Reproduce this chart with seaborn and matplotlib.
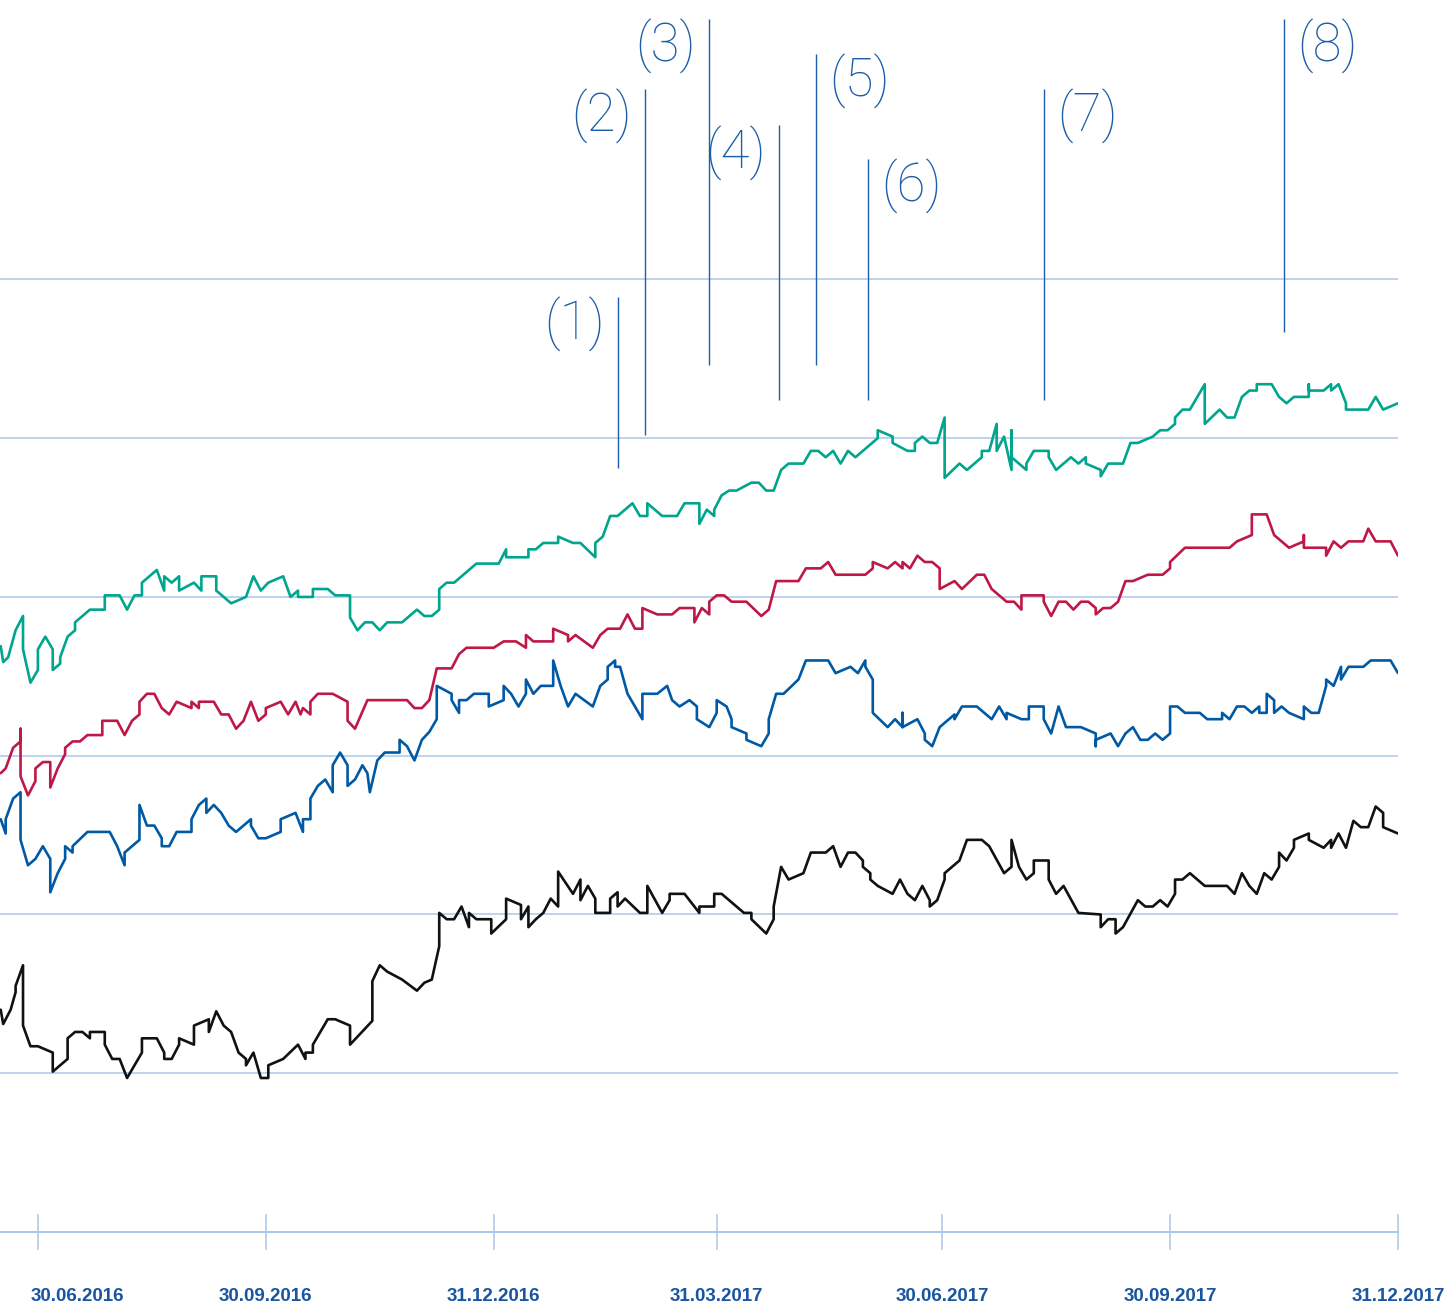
import pandas as pd; import numpy as np
import seaborn as sns; import matplotlib.pyplot as plt
import matplotlib.dates as mdates

start = pd.Timestamp("2016-06-15")

# days since start, index values
green_days = [0,1,3,6,9,9,12,15,15,18,21,21,24,24,27,30,30,36,42,42,48,51,54,57,57,63,66,66,69,72,72,78,81,81,87,87,93,99,102,105,108,114,117,120,120,126,126,132,135,141,141,144,147,150,153,156,162,168,171,174,177,177,180,183,192,201,204,204,213,213,216,219,225,225,231,234,240,240,243,246,249,255,258,261,261,267,273,276,282,282,285,288,288,291,294,297,303,306,309,312,315,318,324,327,330,333,336,339,342,345,354,354,360,360,366,369,369,372,375,378,381,381,387,390,396,396,399,402,402,405,408,408,408,414,414,417,423,423,426,432,435,438,438,444,444,447,453,456,459,465,468,471,474,474,477,480,486,486,492,495,498,501,504,507,507,513,516,519,522,528,528,528,534,537,537,540,543,543,552,555,558,564]
green_vals = [96.9,95.9,96.2,97.9,98.8,96.7,94.6,95.4,96.7,97.5,96.7,95.4,95.8,96.2,97.5,97.9,98.4,99.2,99.2,100.1,100.1,99.2,100.1,100.1,100.9,101.7,100.4,101.3,100.9,101.3,100.4,100.9,100.4,101.3,101.3,100.4,99.6,100.0,101.3,100.4,100.9,101.3,100.0,100.4,100.0,100.0,100.5,100.5,100.1,100.1,98.7,97.9,98.4,98.4,97.9,98.4,98.4,99.2,98.8,98.8,99.2,100.5,100.9,100.9,102.1,102.1,103.0,102.5,102.5,103.0,103.0,103.4,103.4,103.8,103.4,103.4,102.5,103.4,103.8,105.1,105.1,105.9,105.1,105.1,105.9,105.1,105.1,105.9,105.9,104.6,105.5,105.1,105.5,106.4,106.7,106.7,107.2,107.2,106.7,106.7,108.0,108.4,108.4,109.2,109.2,108.8,109.2,108.4,109.2,108.8,110.0,110.5,110.1,109.7,109.2,109.2,109.7,110.1,109.7,109.7,111.3,107.5,108.4,108.0,108.8,109.2,109.2,110.9,109.2,110.1,108.0,110.5,108.8,108.0,108.4,109.2,109.2,108.8,108.0,108.8,108.4,108.8,108.4,108.0,107.6,108.4,108.4,109.7,109.7,110.1,110.5,110.5,110.9,111.3,111.8,111.8,113.4,110.9,111.8,111.3,111.3,112.6,113.0,113.0,113.4,113.4,112.6,112.2,112.6,112.6,113.4,113.0,113.0,113.4,113.0,113.4,112.2,111.8,111.8,112.6,111.8,112.2]

red_days = [0,2,5,8,8,8,11,14,14,17,20,20,23,26,26,29,32,35,41,41,47,50,53,56,56,59,62,65,68,71,77,77,80,80,86,89,92,95,98,101,104,107,107,113,116,119,121,122,125,125,128,134,140,140,143,148,164,167,170,173,176,182,185,188,199,203,208,212,212,215,223,223,229,229,232,239,242,245,250,253,256,259,259,265,271,274,280,280,283,286,286,289,292,295,301,307,310,313,322,325,331,334,337,349,352,352,358,361,364,364,367,370,373,376,379,379,385,388,394,397,400,406,409,412,412,421,421,424,427,430,433,436,439,442,442,445,448,451,454,457,463,469,472,472,478,496,499,505,505,511,514,520,526,526,526,535,535,538,541,544,550,552,555,561,564]
red_vals = [88.9,89.2,90.5,90.9,91.7,88.7,87.5,88.4,89.2,89.6,89.6,88.0,89.2,90.1,90.5,90.9,90.9,91.3,91.3,92.2,92.2,91.3,92.2,92.6,93.4,93.9,93.9,93.0,92.6,93.4,93.0,93.4,93.0,93.4,93.4,92.6,92.6,91.7,92.2,93.4,92.2,92.6,93.0,93.4,92.6,93.4,92.6,93.0,92.6,93.4,93.9,93.9,93.4,92.2,91.7,93.5,93.5,93.0,93.0,93.5,95.5,95.5,96.4,96.8,96.8,97.2,97.2,96.8,97.6,97.2,97.2,98.0,97.6,97.2,97.6,96.8,97.6,98.0,98.0,98.9,98.0,98.0,99.3,98.9,98.9,99.3,99.3,98.4,99.3,98.9,99.7,100.1,100.1,99.7,99.7,98.8,99.2,101.0,101.0,101.8,101.8,102.2,101.4,101.4,101.8,102.2,101.8,102.2,101.8,102.2,101.8,102.6,102.2,102.2,101.8,100.5,101.0,100.5,101.4,101.4,100.5,99.7,99.7,99.2,100.1,100.1,99.7,98.8,99.7,99.7,99.2,99.7,99.7,99.3,98.9,99.3,99.3,99.7,101.0,101.0,101.4,101.4,101.8,102.2,103.1,103.1,103.5,103.9,105.2,105.2,103.9,103.1,103.5,103.9,103.1,103.1,102.6,103.5,103.1,103.5,103.5,104.3,103.5,103.5,102.6]

blue_days = [0,2,2,5,8,8,11,14,17,20,20,23,26,26,29,29,35,44,47,50,50,56,56,59,62,65,65,68,71,77,77,80,83,83,86,89,92,95,101,101,104,107,113,113,119,122,122,125,125,128,131,134,134,137,140,140,143,146,148,149,152,155,161,161,164,167,170,173,176,176,182,182,185,185,188,191,197,197,203,203,206,209,212,212,215,218,223,223,226,229,232,239,242,245,245,248,248,250,253,259,259,265,269,271,274,278,281,281,286,289,289,293,295,295,301,301,307,310,310,313,316,322,325,334,337,343,346,349,349,352,352,358,361,364,364,364,370,373,373,376,379,385,385,388,394,400,403,406,406,412,415,415,421,421,424,427,430,436,442,442,442,448,451,454,457,460,463,466,469,472,472,475,478,484,487,493,493,496,499,502,505,508,508,511,511,514,514,517,520,526,526,529,532,535,535,538,541,541,544,550,553,561,564]
blue_vals = [86.0,85.1,86.0,87.3,87.7,84.7,83.1,83.5,84.3,83.5,81.4,82.6,83.5,84.3,83.9,84.3,85.2,85.2,84.3,83.1,83.9,84.7,86.9,85.6,85.6,84.8,84.3,84.3,85.2,85.2,86.0,86.9,87.3,86.4,86.9,86.4,85.6,85.2,86.0,85.6,84.8,84.8,85.2,86.0,86.4,85.2,86.0,86.0,87.3,88.1,88.5,87.7,89.4,90.2,89.4,88.1,88.5,89.4,88.9,87.7,89.7,90.2,90.2,91.0,90.6,89.7,91.0,91.5,92.3,94.4,93.9,93.5,92.7,93.5,93.5,93.9,93.9,93.1,93.5,94.4,93.9,93.1,93.9,94.8,93.9,94.4,94.4,96.0,94.4,93.1,93.9,93.1,94.4,94.8,95.6,96.0,95.6,95.6,93.9,92.3,93.9,93.9,94.4,93.5,93.1,93.5,93.1,92.3,91.8,92.7,93.5,93.1,92.3,91.8,91.4,91.0,90.6,91.4,92.3,93.9,93.9,94.8,96.0,96.0,95.2,95.6,95.2,96.0,95.6,94.8,92.7,91.8,92.3,91.8,92.7,91.8,92.3,91.4,91.0,90.6,91.8,92.6,92.3,93.1,93.1,92.3,93.1,92.3,92.7,92.3,92.3,93.1,93.1,92.3,91.4,93.1,91.8,91.8,91.4,90.6,91.0,91.4,90.6,91.4,91.8,91.0,91.0,91.4,91.0,91.4,93.1,93.1,92.7,92.7,92.3,92.3,92.7,92.3,93.1,93.1,92.7,93.1,92.7,92.7,93.9,93.5,92.7,93.1,92.7,92.3,93.1,92.7,92.7,94.4,94.8,94.4,95.6,94.8,95.6,95.6,96.0,96.0,95.2]

black_days = [0,1,4,6,6,9,9,12,15,21,21,27,27,30,33,36,36,42,42,45,48,51,57,57,63,66,66,69,72,72,78,78,84,84,87,90,93,96,99,99,102,105,108,108,114,120,123,123,126,126,132,135,141,141,150,150,153,156,162,168,171,174,177,177,180,183,186,189,189,192,198,198,204,204,210,210,213,213,216,219,222,225,225,231,234,234,237,240,240,246,246,249,249,252,258,261,261,267,270,270,276,282,282,288,288,291,300,303,303,309,312,312,315,318,324,327,333,336,339,342,345,348,348,351,351,354,360,363,366,369,372,375,375,378,381,381,387,390,396,399,405,408,408,411,414,417,417,423,423,426,429,435,444,444,447,450,450,453,459,462,465,468,471,474,474,477,480,486,495,498,501,504,507,510,513,516,516,519,522,522,528,528,534,537,537,540,543,546,549,552,555,558,558,564]
black_vals = [74.0,73.1,74.0,75.1,75.5,76.8,73.0,71.7,71.7,71.3,70.1,70.9,72.2,72.6,72.6,72.2,72.6,72.6,71.8,70.9,70.9,69.7,71.3,72.2,72.2,71.3,70.9,70.9,71.8,72.2,71.8,73.0,73.4,72.6,73.9,73.0,72.6,71.3,70.9,70.5,71.3,69.7,69.7,70.5,70.9,71.8,70.9,71.3,71.3,71.8,73.4,73.4,73.0,71.8,73.3,75.8,76.8,76.4,75.9,75.2,75.7,75.9,78.0,80.1,79.7,79.7,80.5,79.2,80.1,79.7,79.7,78.8,79.7,81.0,80.6,79.7,80.5,79.2,79.7,80.1,81.0,80.5,82.7,81.3,82.2,80.9,81.8,81.0,80.1,80.1,81.0,81.4,80.5,81.0,80.1,80.1,81.8,80.1,80.9,81.3,81.3,80.1,80.5,80.5,81.3,81.3,80.1,80.1,79.7,78.8,79.7,80.5,83.0,82.2,82.6,83.9,83.9,84.3,83.0,83.9,83.9,83.4,83.0,82.6,82.2,81.8,81.3,82.2,81.3,80.9,81.8,80.9,80.5,80.9,82.2,82.6,83.4,84.7,84.7,84.3,82.6,83.0,84.7,83.0,82.2,82.6,83.4,83.4,82.2,81.3,81.8,80.1,80.0,79.2,79.7,79.7,78.8,79.2,80.9,80.5,80.5,80.9,80.5,81.3,82.2,82.2,82.6,81.8,81.8,81.3,82.6,81.8,81.3,82.6,82.2,83.0,83.9,83.4,84.2,84.7,85.1,84.7,84.2,84.7,84.2,85.1,84.2,85.9,85.5,85.5,86.8,86.4,85.5,85.1]

tick_dates = ["2016-06-30", "2016-09-30", "2016-12-31", "2017-03-31", "2017-06-30", "2017-09-30", "2017-12-31"]
tick_labels = ["30.06.2016", "30.09.2016", "31.12.2016", "31.03.2017", "30.06.2017", "30.09.2017", "31.12.2017"]

event_days = [249, 260, 286, 314, 329, 350, 421, 518]
event_labels = ["(1)", "(2)", "(3)", "(4)", "(5)", "(6)", "(7)", "(8)"]
# vertical extent of the marker lines, in index units
event_top = [118.9, 132.0, 136.4, 129.7, 134.2, 127.6, 132.0, 136.4]
event_bottom = [108.1, 110.2, 114.6, 112.4, 114.6, 112.4, 112.4, 116.7]

frames = []
for name, d, v in [("green", green_days, green_vals), ("red", red_days, red_vals),
                   ("blue", blue_days, blue_vals), ("black", black_days, black_vals)]:
    frames.append(pd.DataFrame({"date": start + pd.to_timedelta(d, unit="D"),
                                "value": v, "series": name}))
df = pd.concat(frames, ignore_index=True)

palette = {"green": "#00a58e", "red": "#be1846", "blue": "#0059a5", "black": "#111111"}
grid_col = "#a9c6ea"
ann_col = "#1d5ea8"

sns.set_style("white")
fig = plt.figure(figsize=(14.45, 13.03), dpi=100)
ax = fig.add_axes([0, 71 / 1303, 1398 / 1445, 1232 / 1303])

sns.lineplot(data=df, x="date", y="value", hue="series", palette=palette,
             estimator=None, sort=False, legend=False, lw=1.9, ax=ax)

ax.set_ylim(60, 137.6)
ax.set_xlim(start - pd.Timedelta(hours=7), start + pd.Timedelta(days=564))
ax.set_yticks([70, 80, 90, 100, 110, 120])
ax.yaxis.grid(True, color=grid_col, lw=1.1)
ax.xaxis.grid(False)
ax.tick_params(axis="y", left=False, labelleft=False)
ax.set_xlabel("")
ax.set_ylabel("")
for s in ["left", "right", "top"]:
    ax.spines[s].set_visible(False)
ax.spines["bottom"].set_color(grid_col)
ax.spines["bottom"].set_linewidth(1.4)

ax.set_xticks(pd.to_datetime(tick_dates))
ax.tick_params(axis="x", bottom=True, direction="inout", length=26.6, width=1.1,
               color=grid_col, labelbottom=False)

for i, (td, tl) in enumerate(zip(tick_dates, tick_labels)):
    ax.annotate(tl, xy=(mdates.date2num(pd.Timestamp(td)), 0),
                xycoords=("data", "axes fraction"),
                xytext=(-5 if i == 0 else 0, -49.5), textcoords="offset points",
                ha="left" if i == 0 else "center", va="baseline",
                fontsize=13.5, fontweight="bold", color="#1a56a0",
                family=["Liberation Sans", "DejaVu Sans"])

event_dates = start + pd.to_timedelta(event_days, unit="D")
ax.vlines(event_dates, event_bottom, event_top, color=ann_col, lw=1.0)
for i, (ed, lab, top) in enumerate(zip(event_dates, event_labels, event_top)):
    left = i < 4
    ax.annotate(lab, xy=(mdates.date2num(ed), top), xycoords="data",
                xytext=(-9.5 if left else 9.5, 0), textcoords="offset points",
                ha="right" if left else "left", va="top",
                fontsize=38, fontweight="light", color=ann_col,
                family=["Roboto", "DejaVu Sans"])

plt.savefig("out.png", dpi=100)
